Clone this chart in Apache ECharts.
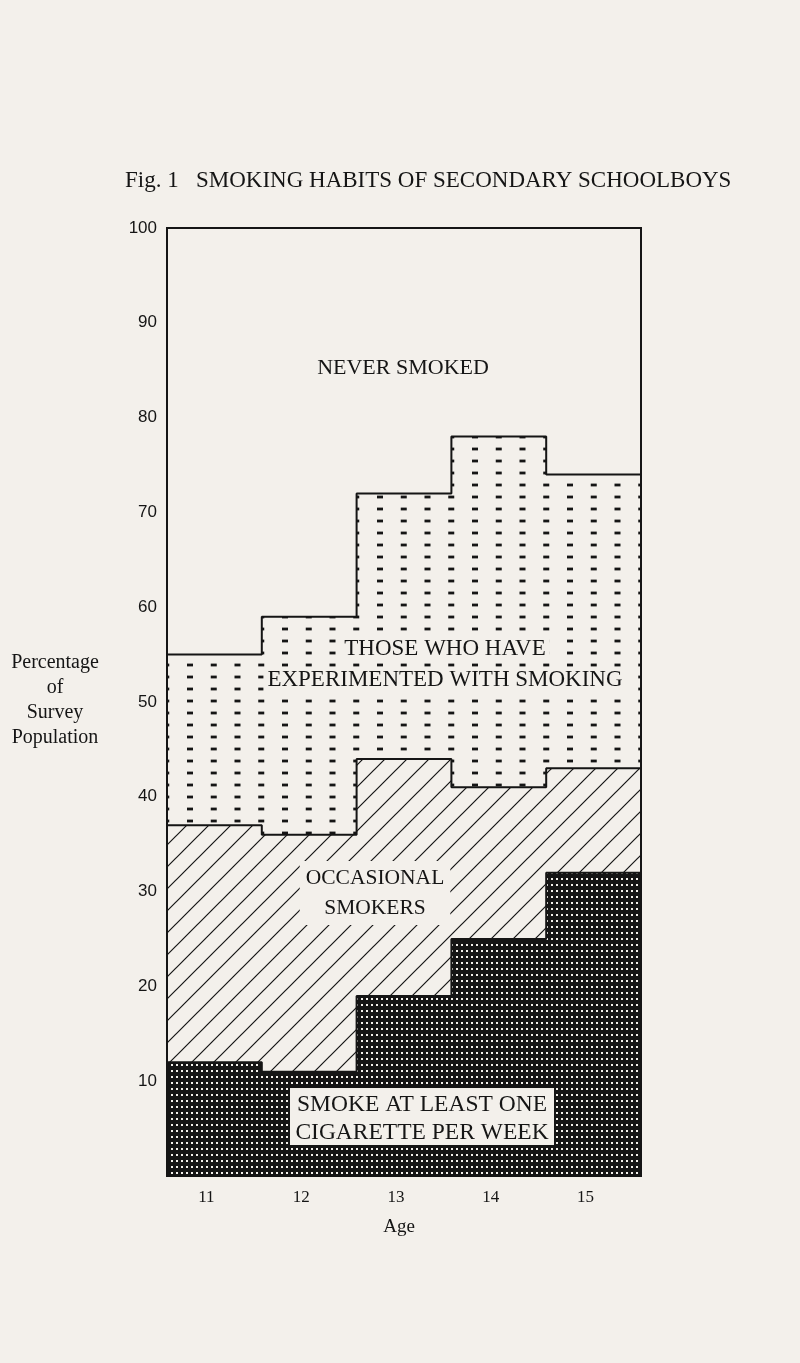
<!DOCTYPE html>
<html lang="en">
<head>
<meta charset="utf-8">
<title>Smoking habits of secondary schoolboys</title>
<script src="https://cdn.jsdelivr.net/npm/echarts@6.0.0/dist/echarts.min.js"></script>
<style>
    html, body { margin: 0; padding: 0; background: #f3f0eb; }
    #chart { width: 800px; height: 1363px; }
</style>
</head>
<body>
<div id="chart"></div>
<script type="text/javascript">
    // ages on the x axis, each age is one unit wide step
    const ages = [11, 12, 13, 14, 15];
    const bandEdges = [10.5, 11.5, 12.5, 13.5, 14.5, 15.5];

    // percentage of survey population in each group, per age
    const smokeWeekly = [12, 11, 19, 25, 32];
    const occasional = [25, 25, 25, 16, 11];
    const experimented = [18, 23, 28, 37, 31];
    const neverSmoked = [45, 41, 28, 22, 26];

    const paper = '#f3f0eb';
    const ink = '#151515';
    const serif = "'Liberation Serif', 'Times New Roman', serif";
    const sans = "'Liberation Sans', Arial, sans-serif";

    // running totals, so each group's upper edge can be drawn from 0
    function addUp(a, b)
    {
        return a.map(function (v, i) { return v + b[i]; });
    }
    const topSmoke = smokeWeekly;
    const topOccasional = addUp(topSmoke, occasional);
    const topExperimented = addUp(topOccasional, experimented);
    const topNever = addUp(topExperimented, neverSmoked);

    // step points: one value per band, last value repeated at the right edge
    function steps(vals)
    {
        const pts = vals.map(function (v, i) { return [bandEdges[i], v]; });
        pts.push([bandEdges[bandEdges.length - 1], vals[vals.length - 1]]);
        return pts;
    }

    function tile(w, h, draw)
    {
        const c = document.createElement('canvas');
        c.width = w;
        c.height = h;
        draw(c.getContext('2d'));
        return c;
    }

    // black with small white dots
    const dotTile = tile(5, 6, function (ctx) {
        ctx.fillStyle = ink;
        ctx.fillRect(0, 0, 5, 6);
        ctx.fillStyle = paper;
        ctx.fillRect(1, 2, 2, 2);
    });
    // thin "/" hatching
    const hatchTile = tile(22, 22, function (ctx) {
        ctx.fillStyle = paper;
        ctx.fillRect(0, 0, 22, 22);
        ctx.strokeStyle = ink;
        ctx.lineWidth = 1.2;
        ctx.beginPath();
        ctx.moveTo(-2, 24); ctx.lineTo(24, -2);
        ctx.moveTo(-13, 13); ctx.lineTo(13, -13);
        ctx.moveTo(9, 35); ctx.lineTo(35, 9);
        ctx.stroke();
    });
    // short dashes on a grid (drawn again one tile over so edge dashes wrap)
    const dashTile = tile(95, 24, function (ctx) {
        ctx.fillStyle = paper;
        ctx.fillRect(0, 0, 95, 24);
        ctx.fillStyle = ink;
        for (let k = 0; k < 4; k++) {
            for (let r = 0; r < 2; r++) {
                const x = k * 23.75, y = 5 + r * 12;
                ctx.fillRect(x - 3, y - 1.4, 6, 2.8);
                ctx.fillRect(x - 3 + 95, y - 1.4, 6, 2.8);
            }
        }
    });

    function stepSeries(name, tops, fill)
    {
        return {
            name: name,
            type: 'line',
            step: 'end',
            data: steps(tops),
            symbol: 'none',
            lineStyle: {color: ink, width: 2},
            areaStyle: {color: fill, opacity: 1, origin: 'start'}
        };
    }

    function label(x, y, text, size, extra)
    {
        const style = {
            text: text, font: size + 'px ' + serif, fill: ink,
            align: 'center', verticalAlign: 'middle'
        };
        Object.assign(style, extra || {});
        return {type: 'text', x: x, y: y, z: 100, style: style};
    }

    const chart = echarts.init(document.getElementById('chart'));
    const option = {
        backgroundColor: paper,
        animation: false,
        title: {
            text: 'Fig. 1   SMOKING HABITS OF SECONDARY SCHOOLBOYS',
            left: 125,
            top: 169,
            padding: 0,
            textStyle: {fontFamily: serif, fontSize: 23, fontWeight: 'normal', color: ink}
        },
        grid: {
            left: 167, right: 159, top: 228, bottom: 187,
            show: true, z: 10,
            backgroundColor: 'transparent',
            borderColor: ink, borderWidth: 2
        },
        xAxis: {
            type: 'value',
            min: 10.5,
            max: 15.5,
            splitLine: {show: false},
            axisLine: {show: false},
            axisTick: {show: false},
            axisLabel: {
                customValues: ages,
                fontFamily: serif, fontSize: 17, color: ink,
                margin: 13,
                padding: [0, 16, 0, 0]
            },
            name: 'Age',
            nameLocation: 'middle',
            nameGap: 42,
            nameTextStyle: {fontFamily: serif, fontSize: 19, color: ink, padding: [0, 10, 0, 0]}
        },
        yAxis: {
            type: 'value',
            min: 0,
            max: 100,
            interval: 10,
            splitLine: {show: false},
            axisLine: {show: false},
            axisTick: {show: false},
            axisLabel: {
                formatter: function (v) { return v === 0 ? '' : v; },
                fontFamily: sans, fontSize: 17, color: ink,
                margin: 10,
                padding: [9, 0, 0, 0]
            }
        },
        // drawn from the top group down, each one over the one before
        series: [
            stepSeries('Never smoked', topNever, paper),
            stepSeries('Experimented with smoking', topExperimented, {image: dashTile, repeat: 'repeat'}),
            stepSeries('Occasional smokers', topOccasional, {image: hatchTile, repeat: 'repeat'}),
            stepSeries('Smoke at least one cigarette per week', topSmoke, {image: dotTile, repeat: 'repeat'})
        ],
        graphic: [
            label(55, 700, 'Percentage\nof\nSurvey\nPopulation', 20, {lineHeight: 25}),
            label(403, 368, 'NEVER SMOKED', 22),
            label(445, 649, 'THOSE WHO HAVE', 23, {backgroundColor: paper, padding: [1, 4]}),
            label(445, 680, 'EXPERIMENTED WITH SMOKING', 23, {backgroundColor: paper, padding: [1, 4]}),
            label(375, 893, 'OCCASIONAL\nSMOKERS', 21.5, {lineHeight: 30, backgroundColor: paper, padding: [2, 6]}),
            {
                type: 'rect', z: 99,
                shape: {x: 290, y: 1088, width: 264, height: 57},
                style: {fill: paper}
            },
            label(422, 1119, 'SMOKE AT LEAST ONE\nCIGARETTE PER WEEK', 23.5, {lineHeight: 28})
        ]
    };
    chart.setOption(option);
</script>
</body>
</html>
